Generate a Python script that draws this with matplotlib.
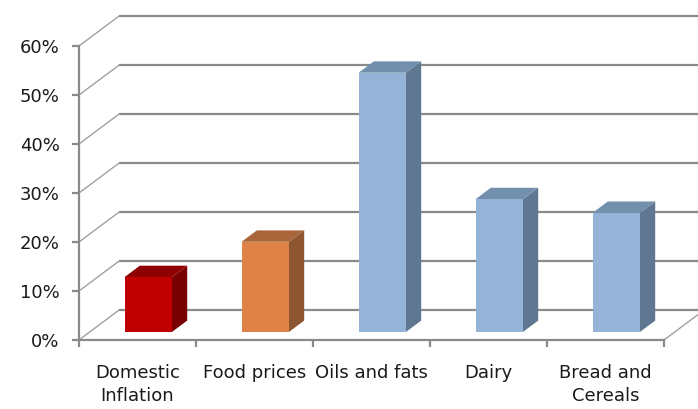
import numpy as np
import matplotlib.pyplot as plt
from matplotlib.patches import Polygon

categories = ['Domestic\nInflation', 'Food prices', 'Oils and fats', 'Dairy', 'Bread and\nCereals']
values = [11.2, 18.4, 52.9, 27.1, 24.3]
yticks = [0, 10, 20, 30, 40, 50, 60]

front_colors = ['#c00000', '#df8247', '#95b3d7', '#95b3d7', '#95b3d7']
top_colors = ['#8f0000', '#a8653a', '#7290ae', '#7290ae', '#7290ae']
side_colors = ['#790000', '#8d5530', '#5f7790', '#5f7790', '#5f7790']

plt.rcParams['font.family'] = ['DejaVu Sans']

fig = plt.figure(figsize=(6.98, 4.09), dpi=100)
ax = fig.add_axes([79 / 698, 69 / 409, 585 / 698, 294 / 409])
ax.set_xlim(0, len(categories))
ax.set_ylim(0, 60)

# depth of the 3d box in data units (back wall offset)
ddx = 0.342
ddy = 6.1
grid_c = '#8a8a8a'

# back wall + side wall lines
for t in yticks:
    ax.plot([ddx, len(categories) + ddx], [t + ddy, t + ddy], color=grid_c, lw=1.6,
            clip_on=False, zorder=1, solid_capstyle='butt')
    ax.plot([0, ddx], [t, t + ddy], color='#a0a0a0', lw=1.0, clip_on=False, zorder=1)
ax.plot([len(categories), len(categories) + ddx], [0, ddy], color='#a0a0a0', lw=1.0,
        clip_on=False, zorder=1)

# bars: front face at depth f0, back at f1
f0, f1 = 0.27, 0.65
w = 0.405
d = (f1 - f0) * ddx
e = (f1 - f0) * ddy
for i, v in enumerate(values):
    xl = i + 0.5 - w / 2 + f0 * ddx
    xr = xl + w
    bot = f0 * ddy
    top = bot + v
    ax.add_patch(Polygon([(xr, bot), (xr + d, bot + e), (xr + d, top + e), (xr, top)],
                         closed=True, facecolor=side_colors[i], edgecolor='none', zorder=3))
    ax.add_patch(Polygon([(xl, top), (xr, top), (xr + d, top + e), (xl + d, top + e)],
                         closed=True, facecolor=top_colors[i], edgecolor='none', zorder=3))
    ax.bar(xl, v, width=w, bottom=bot, align='edge', color=front_colors[i], zorder=4)

for s in ['top', 'right']:
    ax.spines[s].set_visible(False)
for s in ['left', 'bottom']:
    ax.spines[s].set_color(grid_c)
    ax.spines[s].set_linewidth(1.6)

ax.set_yticks(yticks)
ax.set_yticklabels([f'{t}%' for t in yticks])
ax.set_xticks(range(len(categories) + 1))
ax.set_xticklabels([])
ax.set_xticks(np.arange(len(categories)) + 0.5, minor=True)
ax.set_xticklabels(categories, minor=True, linespacing=1.35)
ax.tick_params(axis='both', which='major', color=grid_c, width=1.6, length=5,
               labelsize=13, labelcolor='#1a1a1a')
ax.tick_params(axis='y', pad=9)
ax.tick_params(axis='x', which='minor', length=0, pad=17, labelsize=13, labelcolor='#1a1a1a')
ax.patch.set_visible(False)

fig.savefig('out.png', dpi=100)
